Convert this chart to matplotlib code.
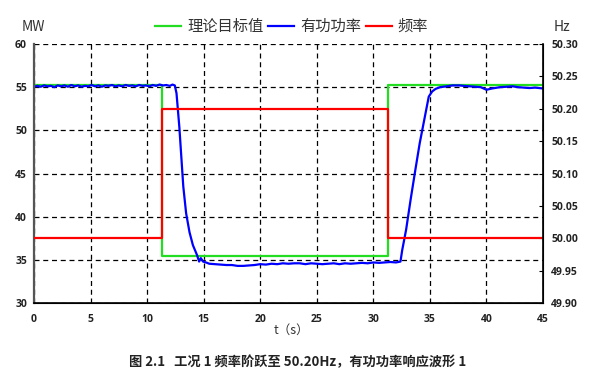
import matplotlib
matplotlib.use("Agg")
import matplotlib.pyplot as plt

plt.rcParams["font.family"] = ["Noto Sans CJK SC", "DejaVu Sans"]
plt.rcParams["axes.unicode_minus"] = False

# 理论目标值 (MW)
t_target = [0, 11.3, 11.3, 31.3, 31.3, 45]
p_target = [55.2, 55.2, 35.5, 35.5, 55.2, 55.2]

# 频率 (Hz)
t_freq = [0, 11.3, 11.3, 31.3, 31.3, 45]
f_freq = [50.0, 50.0, 50.2, 50.2, 50.0, 50.0]

# 有功功率 (MW)
t_power = [0, 0.3, 0.6, 0.9, 1.2, 1.5, 1.8, 2.1, 2.4, 2.7, 3.0, 3.3, 3.6, 3.9,
           4.2, 4.5, 4.8, 5.1, 5.4, 5.7, 6.0, 6.3, 6.6, 6.9, 7.2, 7.5, 7.8,
           8.1, 8.4, 8.7, 9.0, 9.3, 9.6, 9.9, 10.2, 10.5, 10.8, 11.1, 11.4,
           11.7, 12.0, 12.25, 12.45,
           12.6, 12.85, 13.2, 13.45, 13.75, 14.05, 14.4, 14.6, 14.75, 14.95,
           15.2, 15.5, 16.0, 16.5, 17.0, 17.5, 18.0, 18.5, 19.0, 19.5, 20.0,
           20.5, 21.0, 21.5, 22.0, 22.5, 23.0, 23.5, 24.0, 24.5, 25.0, 25.5,
           26.0, 26.5, 27.0, 27.5, 28.0, 28.5, 29.0, 29.5, 30.0, 30.5, 31.0,
           31.5, 32.0, 32.4, 32.55, 32.9, 33.3, 33.7, 34.1, 34.5, 34.9, 35.2,
           35.5, 35.9, 36.5, 37.0, 37.6, 38.0, 38.5, 39.0, 39.5, 40.0, 40.5,
           41.2, 41.8, 42.3, 42.8, 43.3, 43.8, 44.3, 45.0]
p_power = [55.05, 55.15, 55.05, 55.2, 55.1, 55.15, 55.0, 55.2, 55.1, 55.2,
           55.05, 55.25, 55.1, 55.2, 55.05, 55.15, 55.1, 55.25, 55.1, 55.2,
           55.05, 55.2, 55.15, 55.25, 55.1, 55.2, 55.1, 55.25, 55.15, 55.2,
           55.1, 55.25, 55.15, 55.2, 55.1, 55.25, 55.15, 55.3, 55.2, 55.25,
           55.15, 55.3, 55.2,
           54.3, 50.4, 43.5, 40.4, 38.2, 36.7, 35.6, 34.8, 35.2, 34.8,
           34.7, 34.55, 34.5, 34.45, 34.4, 34.4, 34.3, 34.3, 34.35, 34.4, 34.5,
           34.45, 34.55, 34.5, 34.6, 34.55, 34.6, 34.6, 34.5, 34.6, 34.55, 34.5,
           34.55, 34.6, 34.5, 34.6, 34.55, 34.6, 34.65, 34.6, 34.7, 34.65, 34.7,
           34.75, 34.7, 34.8, 36.1, 38.5, 42.0, 45.3, 48.5, 51.2, 53.9, 54.5,
           54.8, 55.0, 55.1, 55.2, 55.2, 55.15, 55.1, 55.05, 55.0, 54.7, 54.85,
           55.0, 55.05, 55.1, 55.0, 54.95, 54.9, 54.95, 54.85]

fig = plt.figure(figsize=(5.95, 3.8), dpi=100)
ax = fig.add_axes([0.0571, 0.2026, 0.8555, 0.6816])
ax2 = ax.twinx()

ax.plot(t_target, p_target, color="#22dd22", lw=1.6, label="理论目标值")
ax.plot(t_power, p_power, color="#0000ff", lw=1.6, label="有功功率")
ax2.plot(t_freq, f_freq, color="#ff0000", lw=1.6, label="频率")

ax.set_xlim(0, 45)
ax.set_ylim(30, 60)
ax2.set_ylim(49.9, 50.3)
ax.set_xticks(range(0, 46, 5))
ax.set_yticks(range(30, 61, 5))
ax2.set_yticks([49.90, 49.95, 50.00, 50.05, 50.10, 50.15, 50.20, 50.25, 50.30])
ax2.set_yticklabels(["49.90", "49.95", "50.00", "50.05", "50.10", "50.15",
                     "50.20", "50.25", "50.30"])

ax.grid(True, color="black", linestyle=(0, (4, 3)), lw=0.9)
ax.tick_params(axis="x", length=0, pad=8, labelsize=7.5)
ax.tick_params(axis="y", length=0, pad=5, labelsize=7.5)
ax2.tick_params(axis="y", direction="in", length=3, pad=6, labelsize=7.5)
for lab in ax.get_xticklabels() + ax.get_yticklabels() + ax2.get_yticklabels():
    lab.set_fontweight("bold")
    lab.set_family(["Open Sans", "DejaVu Sans"])
    lab.set_color("#222222")

for a in (ax, ax2):
    a.spines["top"].set_visible(False)
ax.spines["left"].set_color("#555555")
ax.spines["left"].set_linewidth(1.6)
ax2.spines["left"].set_visible(False)
ax.spines["bottom"].set_linewidth(1.2)
ax2.spines["right"].set_linewidth(1.2)

h1, l1 = ax.get_legend_handles_labels()
h2, l2 = ax2.get_legend_handles_labels()
fig.legend(h1 + h2, l1 + l2, loc="center", bbox_to_anchor=(0.49, 0.93), ncol=3,
           frameon=False, fontsize=11, handlelength=1.7, handletextpad=0.4,
           columnspacing=0.3, labelcolor="#333333")

fig.text(0.037, 0.93, "MW", fontsize=10, color="#333333", va="center", ha="left")
fig.text(0.945, 0.93, "Hz", fontsize=10, color="#333333", va="center", ha="center")
fig.text(0.49, 0.132, "t（s）", fontsize=9, color="#333333", ha="center", va="center")
fig.text(0.5, 0.047, "图 2.1   工况 1 频率阶跃至 50.20Hz，有功功率响应波形 1",
         fontsize=9.5, fontweight="bold", color="#222222", ha="center", va="center")

fig.savefig("out.png", dpi=100)
